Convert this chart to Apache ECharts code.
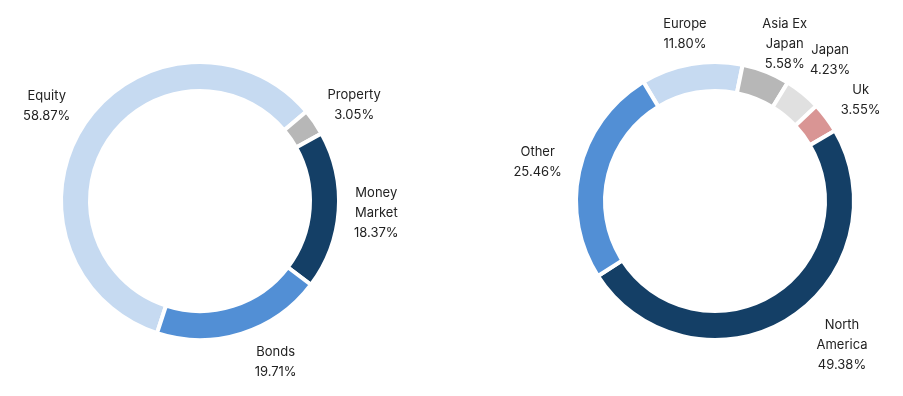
<!DOCTYPE html>
<html>
<head>
<meta charset="utf-8">
<script src="https://cdn.jsdelivr.net/npm/echarts@6/dist/echarts.min.js"></script>
<style>
html,body{margin:0;padding:0;background:#ffffff;}
#chart{width:903px;height:396px;}
</style>
</head>
<body>
<div id="chart"></div>
<script>
// Asset allocation (left ring)
const assetNames = ['Equity', 'Property', 'Money Market', 'Bonds'];
const assetValues = [58.87, 3.05, 18.37, 19.71];
const assetColors = ['#c6daf1', '#b7b7b7', '#143f66', '#528fd5'];

// Regional allocation (right ring)
const regionNames = ['Europe', 'Asia Ex Japan', 'Japan', 'Uk', 'North America', 'Other'];
const regionValues = [11.80, 5.58, 4.23, 3.55, 49.38, 25.46];
const regionColors = ['#c6daf1', '#b7b7b7', '#e0e0e0', '#d99594', '#143f66', '#528fd5'];

const lineBreaks = {'Money Market': 'Money\nMarket', 'Asia Ex Japan': 'Asia Ex\nJapan', 'North America': 'North\nAmerica'};

const FONT_FAMILY = 'Inter, "Noto Sans", sans-serif';
const FONT_SIZE = 13;
const LINE_H = 20;
const R_OUT = 139, R_IN = 110, BORDER = 4;
const CY = 201;
const LABEL_GAP = 154;   // distance of label box from centre (upper half)
const NATURAL_R = 169;   // radius where label centres sit vertically
const EDGE_R = 150;      // circle the label box edge follows (lower half)
const PAD = 4;

const measureCtx = document.createElement('canvas').getContext('2d');
measureCtx.font = FONT_SIZE + 'px ' + FONT_FAMILY;

function labelText(name, value) {
  return (lineBreaks[name] || name) + '\n' + value.toFixed(2) + '%';
}

function xFor(it) {
  const hw = it.w / 2, hh = it.h / 2;
  const sign = it.c >= 0 ? 1 : -1;
  if (it.s > 0) {
    const t = LABEL_GAP + hw * Math.abs(it.c) + hh * Math.abs(it.s);
    return t * it.c;
  }
  const yNear = Math.abs(it.y) <= hh ? 0 : Math.abs(it.y) - hh;
  const edge = (yNear < EDGE_R ? Math.sqrt(EDGE_R * EDGE_R - yNear * yNear) : 0) + PAD;
  return sign * (edge + hw);
}

function labelPositions(names, values, startAngle, cy) {
  const total = values.reduce((a, b) => a + b, 0);
  let acc = 0;
  const items = names.map((n, i) => {
    const lines = labelText(n, values[i]).split('\n');
    const w = Math.max.apply(null, lines.map(l => measureCtx.measureText(l).width));
    const h = lines.length * LINE_H;
    const mid = startAngle - (acc + values[i] / 2) / total * 360;
    acc += values[i];
    const th = mid * Math.PI / 180;
    const c = Math.cos(th), s = Math.sin(th);
    return {i: i, w: w, h: h, c: c, s: s, y: -NATURAL_R * s};
  });
  [true, false].forEach(rightSide => {
    const arr = items.filter(it => rightSide ? it.c >= 0 : it.c < 0).sort((a, b) => a.y - b.y);
    for (let k = arr.length - 2; k >= 0; k--) {
      const a = arr[k], b = arr[k + 1];
      const overlapX = Math.abs(xFor(a) - xFor(b)) < (a.w + b.w) / 2;
      if (overlapX && a.y + a.h / 2 > b.y - b.h / 2) a.y = b.y - b.h / 2 - a.h / 2;
    }
  });
  items.forEach(it => {
    const top = cy + it.y - it.h / 2;
    if (top < 4) it.y += 4 - top;
    it.x = xFor(it);
  });
  return items;
}

const chart = echarts.init(document.getElementById('chart'), null, {renderer: 'canvas'});

function makeSeries(names, values, colors, cx, startAngle) {
  const pos = labelPositions(names, values, startAngle, CY);
  return {
    type: 'pie',
    center: [cx, CY],
    radius: [R_IN, R_OUT],
    startAngle: startAngle,
    clockwise: true,
    avoidLabelOverlap: false,
    silent: true,
    itemStyle: {borderColor: '#ffffff', borderWidth: BORDER},
    label: {
      show: true,
      position: 'outside',
      fontFamily: FONT_FAMILY,
      fontSize: FONT_SIZE,
      lineHeight: LINE_H,
      color: '#222222',
      align: 'center',
      formatter: function (p) { return labelText(p.name, p.value); }
    },
    labelLine: {show: false},
    labelLayout: function (params) {
      const it = pos[params.dataIndex];
      return {x: cx + it.x, y: CY + it.y, align: 'center', verticalAlign: 'middle'};
    },
    emphasis: {disabled: true},
    data: names.map((n, i) => ({name: n, value: values[i], itemStyle: {color: colors[i]}}))
  };
}

chart.setOption({
  animation: false,
  backgroundColor: '#ffffff',
  series: [
    makeSeries(assetNames, assetValues, assetColors, 200, 252),
    makeSeries(regionNames, regionValues, regionColors, 715, 121)
  ]
});
</script>
</body>
</html>
